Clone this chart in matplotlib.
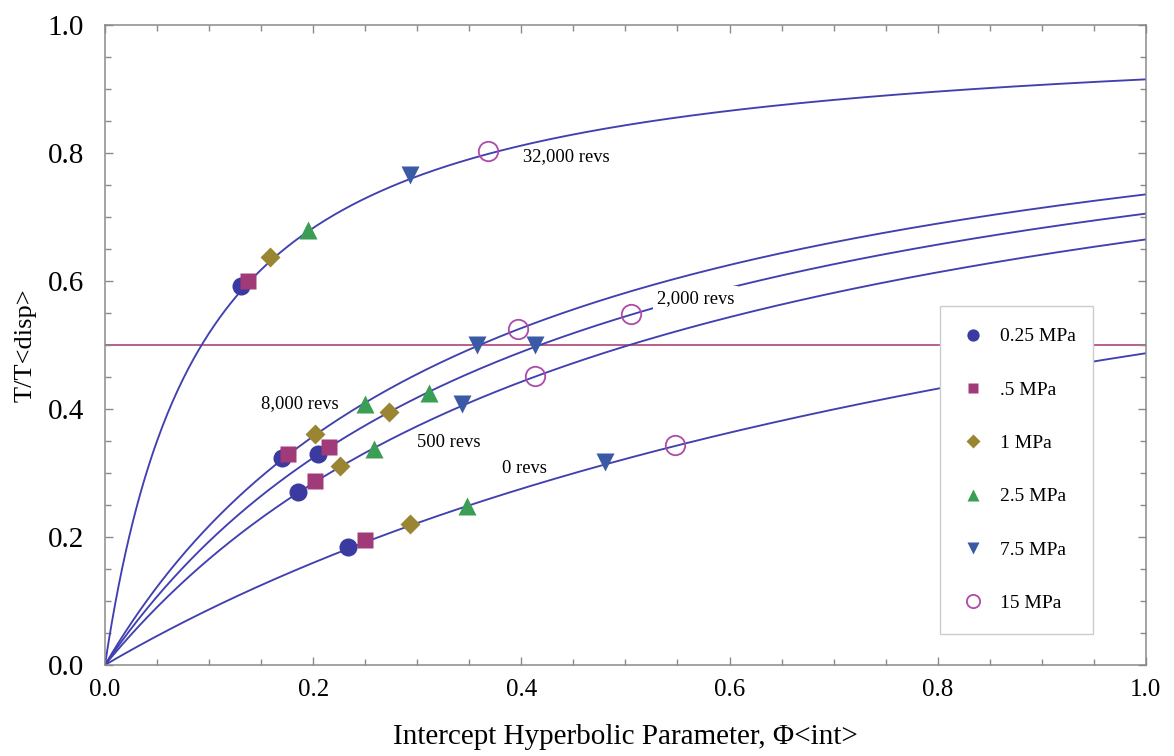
import numpy as np
import matplotlib
matplotlib.use("Agg")
import matplotlib.pyplot as plt
from matplotlib.ticker import MultipleLocator, FormatStrFormatter

plt.rcParams['font.family'] = ['Liberation Serif', 'DejaVu Serif']

# Hyperbolic fits y = phi / (k + phi), one per wear stage
rev_labels = ["0 revs", "500 revs", "2,000 revs", "8,000 revs", "32,000 revs"]
curve_k = [1.053, 0.504, 0.418, 0.360, 0.0929]

# Measured points, ordered 0, 500, 2000, 8000, 32000 revs
pressures = ["0.25 MPa", ".5 MPa", "1 MPa", "2.5 MPa", "7.5 MPa", "15 MPa"]
phi_025 = [0.233, 0.185, 0.205, 0.170, 0.131]
tt_025 = [0.185, 0.271, 0.330, 0.323, 0.592]
phi_05 = [0.250, 0.202, 0.215, 0.176, 0.137]
tt_05 = [0.195, 0.288, 0.340, 0.330, 0.600]
phi_1 = [0.293, 0.226, 0.273, 0.202, 0.159]
tt_1 = [0.221, 0.311, 0.395, 0.361, 0.638]
phi_25 = [0.348, 0.258, 0.311, 0.250, 0.195]
tt_25 = [0.248, 0.337, 0.425, 0.407, 0.680]
phi_75 = [0.480, 0.343, 0.413, 0.357, 0.293]
tt_75 = [0.317, 0.408, 0.500, 0.500, 0.765]
phi_15 = [0.548, 0.413, 0.505, 0.397, 0.368]
tt_15 = [0.344, 0.452, 0.548, 0.525, 0.803]

threshold = 0.5

# label anchors (data coords) for each curve
label_x = [0.381, 0.300, 0.530, 0.150, 0.402]
label_y = [0.307, 0.348, 0.573, 0.408, 0.795]

fig = plt.figure(figsize=(11.74, 7.56), dpi=100)
ax = fig.add_axes([0.0894, 0.1204, 0.8867, 0.8466])

line_col = '#4040b0'
phi = np.linspace(0, 1, 600)
for k in curve_k:
    ax.plot(phi, phi / (k + phi), color=line_col, lw=1.35, zorder=2)

ax.axhline(threshold, color='#a8336e', lw=1.1, zorder=1)

for lab, lx, ly in zip(rev_labels, label_x, label_y):
    kw = {}
    if lab == "2,000 revs":
        kw['bbox'] = dict(fc='white', ec='none', pad=2.5)
    ax.text(lx, ly, lab, fontsize=13.3, ha='left', va='center', zorder=3, **kw)

series = [
    (phi_025, tt_025, dict(marker='o', color='#3a3aa0', ms=13, mec='none')),
    (phi_05, tt_05, dict(marker='s', color='#a03a78', ms=11, mec='none')),
    (phi_1, tt_1, dict(marker='D', color='#9a8632', ms=10.5, mec='none')),
    (phi_25, tt_25, dict(marker='^', color='#3a9e55', ms=13, mec='none')),
    (phi_75, tt_75, dict(marker='v', color='#3a5aa5', ms=13, mec='none')),
    (phi_15, tt_15, dict(marker='o', color='none', ms=14, mec='#b04aa8', mew=1.3)),
]
for (xs, ys, st), name in zip(series, pressures):
    ax.plot(xs, ys, ls='none', label=name, zorder=4, **st)

ax.set_xlim(0, 1)
ax.set_ylim(0, 1)
ax.xaxis.set_major_locator(MultipleLocator(0.2))
ax.yaxis.set_major_locator(MultipleLocator(0.2))
ax.xaxis.set_minor_locator(MultipleLocator(0.05))
ax.yaxis.set_minor_locator(MultipleLocator(0.05))
ax.xaxis.set_major_formatter(FormatStrFormatter('%.1f'))
ax.yaxis.set_major_formatter(FormatStrFormatter('%.1f'))

frame_col = '#8a8a8a'
for s in ax.spines.values():
    s.set_color(frame_col)
    s.set_linewidth(1.1)
ax.tick_params(which='both', direction='in', top=True, right=True, color=frame_col, width=1.0)
ax.tick_params(which='major', length=6)
ax.tick_params(which='minor', length=4)
ax.tick_params(axis='x', labelsize=18, pad=10)
ax.tick_params(axis='y', labelsize=21, pad=15)

ax.set_xlabel("Intercept Hyperbolic Parameter, \u03a6<int>", fontsize=21, labelpad=17)
ax.set_ylabel("T/T<disp>", fontsize=19, labelpad=8)

leg = ax.legend(loc='upper left', bbox_to_anchor=(0.802, 0.561, 0.147, 0.0),
                mode='expand', frameon=True, fancybox=False, framealpha=1,
                edgecolor='#cccccc', fontsize=14, markerscale=0.68,
                labelspacing=1.84, borderpad=1.12, handlelength=1.2,
                handletextpad=0.8, borderaxespad=0)
leg.get_frame().set_linewidth(1.0)
leg.set_zorder(5)

fig.savefig("out.png", dpi=100, facecolor='white')
